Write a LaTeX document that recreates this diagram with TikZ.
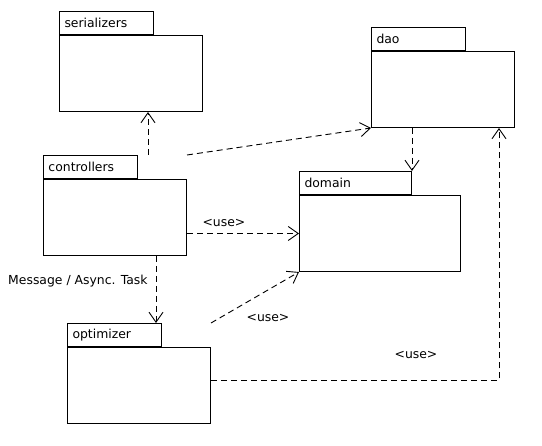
\documentclass[tikz,border=0pt]{standalone}
\usepackage{fontspec}
\setmainfont{DejaVu Sans}
\usetikzlibrary{arrows.meta,calc}
\begin{document}
\begin{tikzpicture}[x=1pt,y=-1pt,
  every node/.style={font=\fontsize{12.4}{14}\selectfont},
  pkgbody/.style={draw=black,line width=1pt,minimum width=143pt,minimum height=76pt,inner sep=0pt,anchor=north west},
  pkgtab/.style={draw=black,line width=1pt,minimum height=23pt,inner xsep=5pt,inner ysep=0pt,align=left,anchor=south west},
  dep/.style={draw=black,line width=0.9pt,dash pattern=on 6pt off 4pt,-{Straight Barb[length=10pt,width=14pt,line width=0.9pt]}},
  lbl/.style={inner sep=0pt}]
\useasboundingbox (0,0) rectangle (542,446);
% packages
\node[pkgbody] (ser) at (59,35) {};
\node[pkgtab,text width=84pt] (serT) at (ser.north west) {serializers};
\node[pkgbody] (ctrl) at (43,179) {};
\node[pkgtab,text width=84pt] (ctrlT) at (ctrl.north west) {controllers};
\node[pkgbody] (dao) at (371,51) {};
\node[pkgtab,text width=84pt] (daoT) at (dao.north west) {dao};
\node[pkgbody,minimum width=161pt] (dom) at (299,195) {};
\node[pkgtab,text width=102pt] (domT) at (dom.north west) {domain};
\node[pkgbody] (opt) at (67,347) {};
\node[pkgtab,text width=84pt] (optT) at (opt.north west) {optimizer};
% dependencies
\draw[dep] ([xshift=10pt]ctrlT.north east) -- ([xshift=10pt]ctrlT.north east |- ser.south);
\draw[dep] (ctrl.east |- ctrlT.north) -- (dao.south west);
\draw[dep] (domT.north east |- dao.south) -- (domT.north east);
\draw[dep] (ctrl.east |- dom.west) -- node[lbl,above=6pt,pos=0.33] (u1) {<use>} (dom.west);
\draw[dep] (opt.east |- optT.north) -- (dom.south west);
\draw[dep] ([yshift=5pt]opt.east) -| ([xshift=-16pt]dao.south east);
\draw[dep] ([xshift=-6pt]optT.north east |- ctrl.south) -- node[lbl,left=8pt,pos=0.38] (msg) {Message / Async. Task} ([xshift=-6pt]optT.north east);
\node[lbl] (u2) at (268,318) {<use>};
\node[lbl] (u3) at (416,355) {<use>};
\end{tikzpicture}
\end{document}
